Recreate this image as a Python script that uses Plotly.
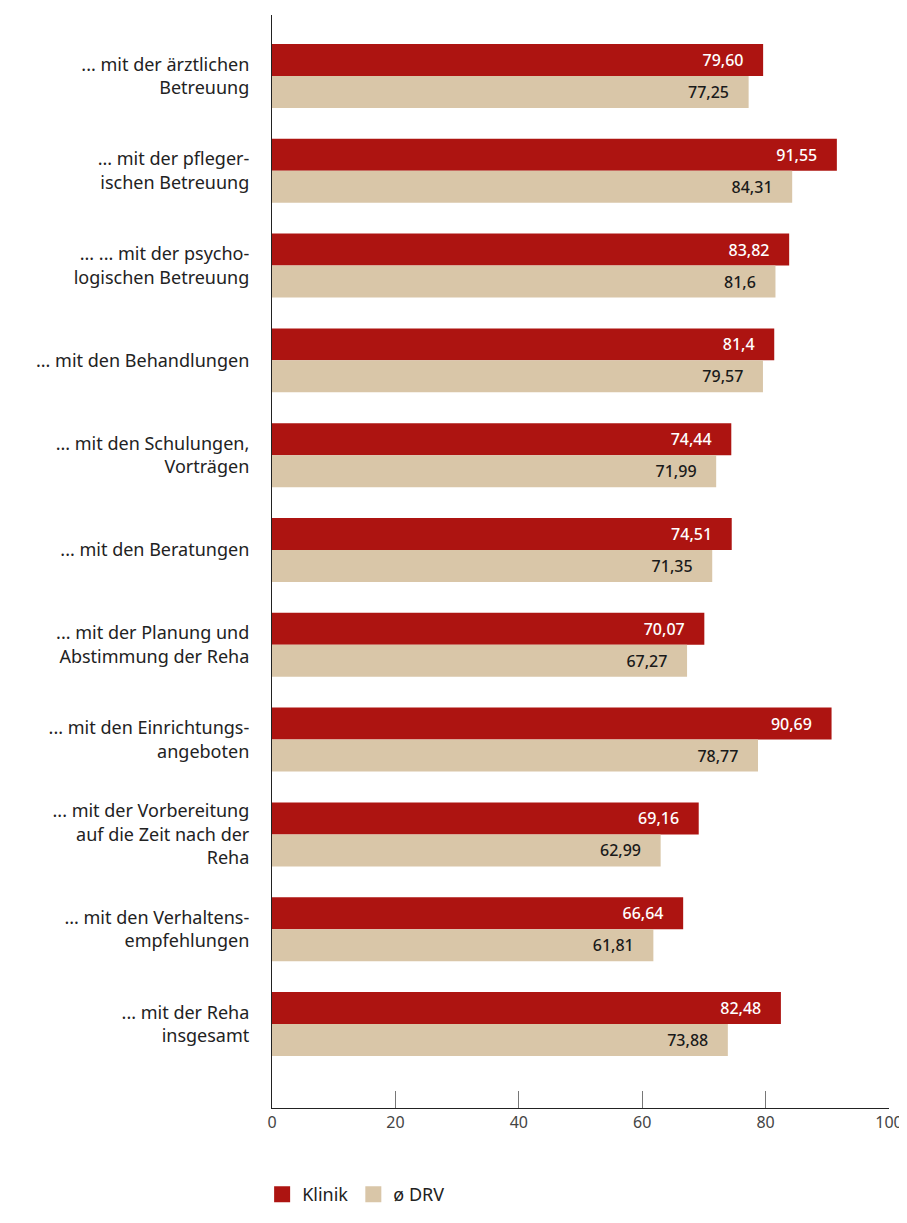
import plotly.graph_objects as go

kategorien = [
    "... mit der ärztlichen<br>Betreuung",
    "... mit der pfleger-<br>ischen Betreuung",
    "... ... mit der psycho-<br>logischen Betreuung",
    "... mit den Behandlungen",
    "... mit den Schulungen,<br>Vorträgen",
    "... mit den Beratungen",
    "... mit der Planung und<br>Abstimmung der Reha",
    "... mit den Einrichtungs-<br>angeboten",
    "... mit der Vorbereitung<br>auf die Zeit nach der<br>Reha",
    "... mit den Verhaltens-<br>empfehlungen",
    "... mit der Reha<br>insgesamt",
]

klinik = [79.60, 91.55, 83.82, 81.4, 74.44, 74.51, 70.07, 90.69, 69.16, 66.64, 82.48]
klinik_text = ["79,60", "91,55", "83,82", "81,4", "74,44", "74,51", "70,07", "90,69", "69,16", "66,64", "82,48"]

drv = [77.25, 84.31, 81.6, 79.57, 71.99, 71.35, 67.27, 78.77, 62.99, 61.81, 73.88]
drv_text = ["77,25", "84,31", "81,6", "79,57", "71,99", "71,35", "67,27", "78,77", "62,99", "61,81", "73,88"]

ROT = "#AD1411"
BEIGE = "#D9C6A8"
SCHRIFT = "Noto Sans"
PAD = "\u00a0" * 4

fig = go.Figure()
fig.add_trace(go.Bar(
    y=kategorien, x=klinik, orientation="h", name="Klinik", showlegend=False,
    marker=dict(color=ROT, line=dict(width=0)),
    text=[t + PAD for t in klinik_text], textposition="inside", insidetextanchor="end",
    textfont=dict(color="white", size=16, family=SCHRIFT, weight=500),
))
fig.add_trace(go.Bar(
    y=kategorien, x=drv, orientation="h", name="ø DRV", showlegend=False,
    marker=dict(color=BEIGE, line=dict(width=0)),
    text=[t + PAD for t in drv_text], textposition="inside", insidetextanchor="end",
    textfont=dict(color="#1a1a1a", size=16, family=SCHRIFT, weight=500),
))

# Legende mit grossen Quadraten
for name, farbe in [("Klinik", ROT), ("ø DRV", BEIGE)]:
    fig.add_trace(go.Scatter(
        x=[None], y=[None], mode="markers", name=name,
        marker=dict(symbol="square", size=16, color=farbe),
    ))

# die Seite hat 8px Rand; Hoehe so, dass kein Scrollbalken entsteht
fig.update_layout(
    width=899, height=1205,
    margin=dict(l=264, r=18, t=7, b=105, autoexpand=False),
    barmode="group", bargap=0.325, bargroupgap=0,
    plot_bgcolor="white", paper_bgcolor="white",
    font=dict(family=SCHRIFT, color="#222222", size=17),
    showlegend=True,
    legend=dict(
        orientation="h", x=-0.016, xanchor="left", y=-0.096, yanchor="bottom",
        font=dict(size=18, color="#222222"),
        traceorder="normal", itemsizing="trace",
    ),
)

fig.update_xaxes(
    range=[0, 100], tickvals=[0, 20, 40, 60, 80, 100],
    showgrid=False, zeroline=False,
    showline=True, linecolor="#222222", linewidth=1.2,
    ticks="inside", ticklen=17, tickcolor="#777777", tickwidth=1,
    tickfont=dict(size=16, color="#444444"),
    ticklabeloverflow="allow",
    automargin=False,
)
fig.update_yaxes(
    type="category", range=[10.886, -0.643],
    showgrid=False, zeroline=False,
    showline=True, linecolor="#222222", linewidth=1.2,
    ticks="", ticklabelstandoff=18,
    tickfont=dict(size=18, color="#222222"),
    automargin=False,
)

fig.write_html("out.html")
